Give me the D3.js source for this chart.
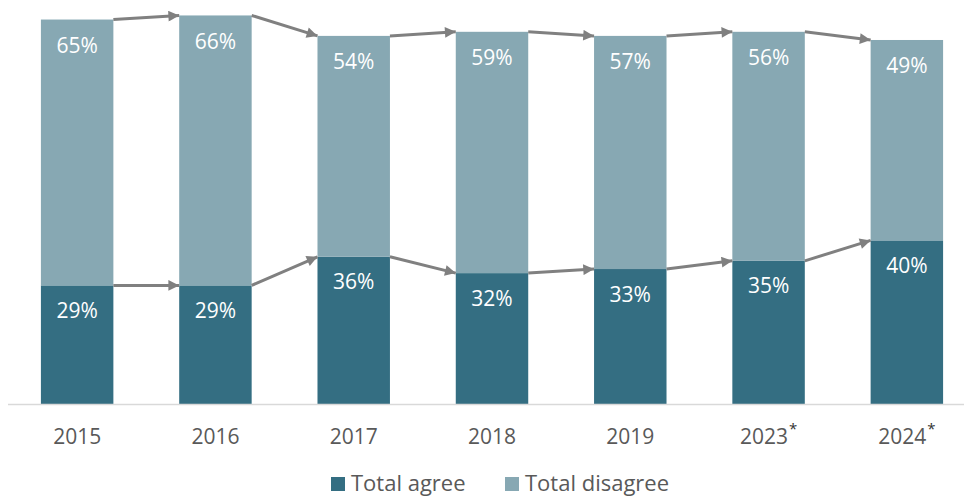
<!DOCTYPE html>
<html>
<head>
<meta charset="utf-8">
<script src="https://cdn.jsdelivr.net/npm/d3@7"></script>
<style>
  body { margin: 0; background: #fff; font-family: "Open Sans", "Noto Sans", sans-serif; }
</style>
</head>
<body>
<div id="container"></div>
<script>
/* DATA */
const years = ["2015", "2016", "2017", "2018", "2019", "2023", "2024"];
const starred = [false, false, false, false, false, true, true];
const agree = [29, 29, 36, 32, 33, 35, 40];
const disagree = [65, 66, 54, 59, 57, 56, 49];
const seriesNames = ["Total agree", "Total disagree"];

/* CONSTANTS */
const width = 964, height = 498;
const baseY = 404;
const colors = {agree: "#346e82", disagree: "#87a8b3"};

const svg = d3.select("#container").append("svg")
  .attr("width", width).attr("height", height);

// SCALES
const xScale = d3.scaleBand().domain(years).range([8, 976]).paddingInner(0.476).paddingOuter(0.238);
const yScale = d3.scaleLinear().domain([0, 100]).range([baseY, -5]);

const data = years.map((y, i) => ({year: y, agree: agree[i], disagree: disagree[i], star: starred[i]}));

// BARS
const bw = xScale.bandwidth();
svg.selectAll(".agree").data(data).join("rect")
  .attr("x", d => xScale(d.year)).attr("width", bw)
  .attr("y", d => yScale(d.agree)).attr("height", d => baseY - yScale(d.agree))
  .attr("fill", colors.agree);

svg.selectAll(".disagree").data(data).join("rect")
  .attr("x", d => xScale(d.year)).attr("width", bw)
  .attr("y", d => yScale(d.agree + d.disagree)).attr("height", d => yScale(d.agree) - yScale(d.agree + d.disagree))
  .attr("fill", colors.disagree);

// VALUE LABELS
svg.selectAll(".lblA").data(data).join("text")
  .attr("x", d => xScale(d.year) + bw / 2)
  .attr("y", d => yScale(d.agree) + 32.5)
  .attr("text-anchor", "middle").attr("fill", "#fff").attr("font-size", 21)
  .text(d => d.agree + "%");

svg.selectAll(".lblD").data(data).join("text")
  .attr("x", d => xScale(d.year) + bw / 2)
  .attr("y", d => yScale(d.agree + d.disagree) + 33.5)
  .attr("text-anchor", "middle").attr("fill", "#fff").attr("font-size", 21)
  .text(d => d.disagree + "%");

// AXIS LINE
svg.append("line").attr("x1", 8).attr("x2", width).attr("y1", baseY + 0.5).attr("y2", baseY + 0.5)
  .attr("stroke", "#d9d9d9").attr("stroke-width", 1.5);

// X LABELS
const xl = svg.selectAll(".xl").data(data).join("text")
  .attr("x", d => xScale(d.year) + bw / 2)
  .attr("y", 444)
  .attr("text-anchor", "middle").attr("fill", "#595959").attr("font-size", 21);
xl.append("tspan").text(d => d.year);
xl.filter(d => d.star).append("tspan").attr("dy", -10).attr("dx", 1).attr("font-size", 15).attr("fill", "#333").text("*");

// ARROWS
svg.append("defs").append("marker")
  .attr("id", "arr").attr("viewBox", "0 0 10 10").attr("refX", 10).attr("refY", 5)
  .attr("markerWidth", 4.2).attr("markerHeight", 3.6).attr("orient", "auto")
  .attr("markerUnits", "strokeWidth")
  .append("path").attr("d", "M0,0 L10,5 L0,10 Z").attr("fill", "#808080");

const pairs = d3.pairs(data);
const arrowLine = (key) => svg.selectAll(".arr-" + key).data(pairs).join("line")
  .attr("x1", ([a]) => xScale(a.year) + bw)
  .attr("y1", ([a]) => yScale(key === "a" ? a.agree : a.agree + a.disagree))
  .attr("x2", ([, b]) => xScale(b.year))
  .attr("y2", ([, b]) => yScale(key === "a" ? b.agree : b.agree + b.disagree))
  .attr("stroke", "#808080").attr("stroke-width", 3)
  .attr("marker-end", "url(#arr)");
arrowLine("a");
arrowLine("d");

// LEGEND
const legend = svg.append("g").attr("transform", "translate(331,491)");
const items = [{name: seriesNames[0], c: colors.agree, x: 0}, {name: seriesNames[1], c: colors.disagree, x: 174}];
items.forEach(it => {
  legend.append("rect").attr("x", it.x).attr("y", -14).attr("width", 14).attr("height", 14).attr("fill", it.c);
  legend.append("text").attr("x", it.x + 20).attr("y", 0).attr("font-size", 22).attr("fill", "#595959").text(it.name);
});
</script>
</body>
</html>
